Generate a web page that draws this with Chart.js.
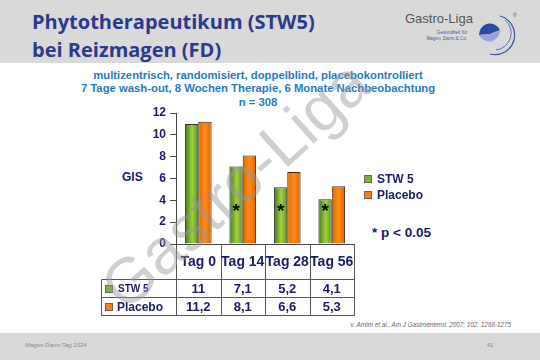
<!DOCTYPE html>
<html><head><meta charset="utf-8">
<script src="https://cdn.jsdelivr.net/npm/chart.js@4.4.0/dist/chart.umd.min.js"></script>
<style>
html,body{margin:0;padding:0;}
body{width:540px;height:360px;position:relative;overflow:hidden;background:#fff;font-family:"Liberation Sans",Arial,sans-serif;}
#hdr{position:absolute;left:0;top:0;width:540px;height:63px;background:#d9d9d9;}
#ftr{position:absolute;left:0;top:333px;width:540px;height:27px;background:#d9d9d9;}
.t{position:absolute;white-space:nowrap;}
#title{left:32px;top:8px;font-family:"Open Sans";font-weight:700;font-size:20px;line-height:28px;color:#2b3a8c;}
#sub{left:58px;width:400px;top:69px;text-align:center;font-weight:700;font-size:11.3px;line-height:13.3px;color:#1f7bc6;}
#gis{left:122px;top:170px;font-weight:700;font-size:12px;line-height:14px;color:#1b1b6b;}
#pval{left:372px;top:225px;font-weight:700;font-size:13.5px;line-height:16px;color:#1b1b6b;}
#cite{right:29px;top:320px;font-style:italic;font-size:6.3px;line-height:10px;color:#666;}
#foot{left:25px;top:340px;font-size:6px;line-height:10px;color:#888;}
#page{left:487px;top:340px;font-size:6px;line-height:10px;color:#888;}
#logo{position:absolute;left:395px;top:0;}
canvas{position:absolute;left:0;top:0;}
</style></head>
<body>
<div id="hdr"></div>
<div id="ftr"></div>
<div class="t" id="title">Phytotherapeutikum (STW5)<br>bei Reizmagen (FD)</div>
<svg id="logo" width="145" height="63" viewBox="395 0 145 63">
  <text x="405" y="23" font-family="Liberation Sans" font-size="13" fill="#555">Gastro-Liga</text>
  <text x="467" y="34" text-anchor="end" font-family="Liberation Sans" font-size="4.6" fill="#4b5aa3">Gesundheit für</text>
  <text x="467" y="40" text-anchor="end" font-family="Liberation Sans" font-size="4.6" fill="#4b5aa3">Magen, Darm &amp; Co.</text>
  <path d="M479 35 A11 11 0 0 1 500 30 L490 34 Z" fill="#2c4aa3"/>
  <path d="M479 35 L490 34 L500 30 A11 11 0 0 1 479 35 Z" fill="#9aa3d9"/>
  <path d="M500 16 A19 19 0 0 1 490 54" stroke="#3a56a8" stroke-width="1.2" fill="none"/>
  <path d="M505 20 A17 17 0 0 1 496 50" stroke="#3a56a8" stroke-width="0.8" fill="none"/>
  <text x="513" y="17" font-family="Liberation Sans" font-size="5" fill="#555">®</text>
</svg>
<div class="t" id="sub">multizentrisch, randomisiert, doppelblind, placebokontrolliert<br>7 Tage wash-out, 8 Wochen Therapie, 6 Monate Nachbeobachtung<br>n = 308</div>
<div class="t" id="gis">GIS</div>
<div class="t" id="pval">* p &lt; 0.05</div>
<div class="t" id="cite">v. Arnim et al., Am J Gastroenterol. 2007; 102: 1268-1275</div>
<div class="t" id="foot">Magen-Darm-Tag 2024</div>
<div class="t" id="page">41</div>
<canvas id="c" width="540" height="360"></canvas>
<script>
const categories = ['Tag 0', 'Tag 14', 'Tag 28', 'Tag 56'];
const seriesNames = ['STW 5', 'Placebo'];
const stw5 = [11, 7.1, 5.2, 4.1];
const placebo = [11.2, 8.1, 6.6, 5.3];
const significant = [false, true, true, true];
const yTicks = [0, 2, 4, 6, 8, 10, 12];

const NAVY = '#1b1b6b';
const flat = ['#7ab534', '#ff8000'];
const CAT_PCT = 0.6;

function barFill(which) {
  return (ctx) => {
    const chart = ctx.chart, x = chart.scales && chart.scales.x;
    if (!x || !chart.chartArea || ctx.dataIndex === undefined) return flat[which];
    const c = x.getPixelForValue(ctx.dataIndex);
    const catW = x.width / categories.length;
    const bw = catW * CAT_PCT / 2;
    const x0 = which ? c : c - bw;
    const g = chart.ctx.createLinearGradient(x0, 0, x0 + bw, 0);
    if (which === 0) {
      g.addColorStop(0, '#3f7a1e'); g.addColorStop(0.55, '#a2d03c'); g.addColorStop(1, '#5a9426');
    } else {
      g.addColorStop(0, '#e86400'); g.addColorStop(0.5, '#ff8c14'); g.addColorStop(1, '#e86000');
    }
    return g;
  };
}

const fmt = v => String(v).replace('.', ',');

const tablePlugin = {
  id: 'tablePlugin',
  afterDraw(chart) {
    const ctx = chart.ctx, x = chart.scales.x, y = chart.scales.y, a = chart.chartArea;
    const n = categories.length, catW = x.width / n;
    const top = Math.round(a.bottom) + 0.5;
    const hdrB = 279.5, r1B = 297.5, bot = 315.5, tLeft = 101.5;
    ctx.save();
    ctx.strokeStyle = '#555'; ctx.lineWidth = 1;
    ctx.beginPath();
    for (let i = 0; i <= n; i++) {
      const bx = Math.round(a.left + i * catW) + 0.5;
      ctx.moveTo(bx, top); ctx.lineTo(bx, bot);
    }
    [hdrB, r1B, bot].forEach(yy => { ctx.moveTo(tLeft, yy); ctx.lineTo(Math.round(a.right) + 0.5, yy); });
    ctx.moveTo(tLeft, hdrB); ctx.lineTo(tLeft, bot);
    ctx.stroke();

    ctx.fillStyle = NAVY; ctx.textAlign = 'center'; ctx.textBaseline = 'middle';
    ctx.font = 'bold 14px "Liberation Sans"';
    categories.forEach((c, i) => ctx.fillText(c, x.getPixelForValue(i), 262));
    ctx.font = 'bold 13px "Liberation Sans"';
    stw5.forEach((v, i) => ctx.fillText(fmt(v), x.getPixelForValue(i), 289.5));
    placebo.forEach((v, i) => ctx.fillText(fmt(v), x.getPixelForValue(i), 307.5));

    // row labels
    const rows = [[289, 'bold 10px "Liberation Sans"', 118], [307, 'bold 12px "Liberation Sans"', 117]];
    rows.forEach((r, k) => {
      ctx.fillStyle = flat[k]; ctx.fillRect(105, r[0] - 4, 8, 8);
      ctx.strokeStyle = '#666'; ctx.strokeRect(105.5, r[0] - 3.5, 7, 7);
      ctx.fillStyle = NAVY; ctx.textAlign = 'left'; ctx.font = r[1];
      ctx.fillText(seriesNames[k], r[2], r[0] + 0.5);
    });

    // right legend
    ctx.font = 'bold 12px "Liberation Sans"';
    [179, 195].forEach((yy, k) => {
      ctx.fillStyle = flat[k]; ctx.fillRect(364, yy - 4, 8, 8);
      ctx.strokeStyle = '#666'; ctx.strokeRect(364.5, yy - 3.5, 7, 7);
      ctx.fillStyle = NAVY; ctx.fillText(seriesNames[k], 377, yy + 0.5);
    });

    // significance stars
    ctx.fillStyle = '#000'; ctx.textAlign = 'center'; ctx.textBaseline = 'alphabetic';
    ctx.font = 'bold 19px "Liberation Sans"';
    const bw = catW * CAT_PCT / 2;
    significant.forEach((s, i) => {
      if (!s) return;
      ctx.fillText('*', x.getPixelForValue(i) - bw / 2, y.getPixelForValue(3.26) + 8.5);
    });

    // watermark
    ctx.translate(238, 188);
    ctx.rotate(-42 * Math.PI / 180);
    ctx.font = '64px "Liberation Sans"';
    ctx.fillStyle = 'rgba(150,150,150,0.45)';
    ctx.textAlign = 'center'; ctx.textBaseline = 'middle';
    ctx.fillText('Gastro-Liga', 0, 0);
    ctx.restore();
  }
};

new Chart(document.getElementById('c'), {
  type: 'bar',
  data: {
    labels: categories,
    datasets: [
      { label: seriesNames[0], data: stw5, backgroundColor: barFill(0), borderColor: '#2d2d2d', borderWidth: 1 },
      { label: seriesNames[1], data: placebo, backgroundColor: barFill(1), borderColor: '#2d2d2d', borderWidth: 1 }
    ]
  },
  options: {
    responsive: false, animation: false, devicePixelRatio: 1,
    layout: { padding: { left: 120, right: 186, top: 113, bottom: 116 } },
    datasets: { bar: { categoryPercentage: CAT_PCT, barPercentage: 1 } },
    plugins: { legend: { display: false }, tooltip: { enabled: false } },
    scales: {
      x: {
        afterFit(s) { s.height = 0; },
        ticks: { display: false },
        grid: { display: false },
        border: { display: true, color: '#444' }
      },
      y: {
        min: 0, max: 12,
        afterFit(s) { s.width = 56; },
        afterBuildTicks(s) { s.ticks = yTicks.map(v => ({ value: v })); },
        ticks: { font: { family: 'Liberation Sans', weight: 'bold', size: 12 }, color: NAVY, padding: 4 },
        grid: { drawOnChartArea: false, drawTicks: true, tickLength: 6, color: '#444' },
        border: { display: true, color: '#444' }
      }
    }
  },
  plugins: [tablePlugin]
});
</script>
</body></html>
